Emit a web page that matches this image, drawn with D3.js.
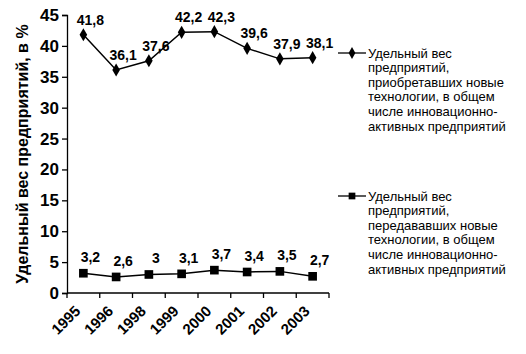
<!DOCTYPE html>
<html>
<head>
<meta charset="utf-8">
<script src="https://cdn.jsdelivr.net/npm/d3@7"></script>
<style>
  body { margin: 0; background: #fff; }
  text { font-family: "Liberation Sans", Arial, sans-serif; }
</style>
</head>
<body>
<svg id="chart" width="526" height="354"></svg>
<script>
// data
const years = ['1995', '1996', '1998', '1999', '2000', '2001', '2002', '2003'];
const acquired = [41.8, 36.1, 37.6, 42.2, 42.3, 39.6, 37.9, 38.1];
const transferred = [3.2, 2.6, 3, 3.1, 3.7, 3.4, 3.5, 2.7];
const yTicks = [0, 5, 10, 15, 20, 25, 30, 35, 40, 45];
const legendAcquired = ['Удельный вес', 'предприятий,', 'приобретавших новые', 'технологии, в общем', 'числе инновационно-', 'активных предприятий'];
const legendTransferred = ['Удельный вес', 'предприятий,', 'передававших новые', 'технологии, в общем', 'числе инновационно-', 'активных предприятий'];

const svg = d3.select('#chart');
const plotLeft = 67, plotRight = 329, plotTop = 15, plotBottom = 293;

const x = d3.scaleBand().domain(years).range([plotLeft, plotRight]);
const y = d3.scaleLinear().domain([0, 45]).range([plotBottom, plotTop]);
const fmt = d => String(d).replace('.', ',');

// y axis
const yAxis = svg.append('g')
    .attr('transform', 'translate(' + plotLeft + ',0)')
    .call(d3.axisLeft(y).tickValues(yTicks).tickSize(5).tickPadding(3));
yAxis.select('.domain').attr('stroke', '#000').attr('stroke-width', 1.3);
yAxis.selectAll('.tick line').attr('stroke', '#000').attr('stroke-width', 1.3);
yAxis.selectAll('text')
    .style('font-size', '17px')
    .style('font-weight', 'bold')
    .attr('fill', '#000');

// x axis (ticks on category borders)
const xAxis = svg.append('g')
    .attr('transform', 'translate(0,' + plotBottom + ')');
xAxis.append('line')
    .attr('x1', plotLeft).attr('x2', plotRight)
    .attr('stroke', '#000').attr('stroke-width', 1.3);
const borders = years.map(d => x(d)).concat([plotRight]);
xAxis.selectAll('.xtick')
    .data(borders)
    .enter()
    .append('line')
    .attr('x1', d => d).attr('x2', d => d)
    .attr('y1', 0).attr('y2', 5)
    .attr('stroke', '#000').attr('stroke-width', 1.3);
svg.selectAll('.xlabel')
    .data(years)
    .enter()
    .append('text')
    .attr('transform', d => 'translate(' + (x(d) + x.bandwidth() / 2 - 2) + ',' + 312 + ') rotate(-45)')
    .attr('text-anchor', 'end')
    .style('font-size', '15px')
    .style('font-weight', 'bold')
    .attr('fill', '#000')
    .text(d => d);

// y axis title
svg.append('text')
    .attr('transform', 'translate(28,' + (plotTop + plotBottom) / 2 + ') rotate(-90)')
    .attr('text-anchor', 'middle')
    .style('font-size', '16px')
    .style('font-weight', 'bold')
    .attr('fill', '#000')
    .text('Удельный вес предприятий, в %');

const cx = d => x(d) + x.bandwidth() / 2;
const line = d3.line().x((d, i) => cx(years[i])).y(d => y(d));

function drawSeries(values, symbol, size, labelDy) {
    svg.append('path')
        .datum(values)
        .attr('fill', 'none')
        .attr('stroke', '#000')
        .attr('stroke-width', 1.5)
        .attr('d', line);
    svg.append('g').selectAll('path')
        .data(values)
        .enter()
        .append('path')
        .attr('transform', (d, i) => 'translate(' + cx(years[i]) + ',' + y(d) + ')')
        .attr('d', d3.symbol().type(symbol).size(size))
        .attr('fill', '#000');
    svg.append('g').selectAll('text')
        .data(values)
        .enter()
        .append('text')
        .attr('x', (d, i) => cx(years[i]) + 7)
        .attr('y', d => y(d) - labelDy)
        .attr('text-anchor', 'middle')
        .style('font-size', '14px')
        .style('font-weight', 'bold')
        .attr('fill', '#000')
        .text(fmt);
}

drawSeries(acquired, d3.symbolDiamond, 50, 10);
drawSeries(transferred, d3.symbolSquare, 75, 11);

// legend
function legend(lines, symbol, size, ly) {
    const g = svg.append('g');
    g.append('line')
        .attr('x1', 338).attr('x2', 366)
        .attr('y1', ly).attr('y2', ly)
        .attr('stroke', '#000').attr('stroke-width', 1.3);
    g.append('path')
        .attr('transform', 'translate(352,' + ly + ')')
        .attr('d', d3.symbol().type(symbol).size(size))
        .attr('fill', '#000');
    g.selectAll('text')
        .data(lines)
        .enter()
        .append('text')
        .attr('x', 368)
        .attr('y', (d, i) => ly + 4.5 + i * 14.6)
        .style('font-size', '13px')
        .attr('fill', '#000')
        .text(d => d);
}

legend(legendAcquired, d3.symbolDiamond, 40, 53);
legend(legendTransferred, d3.symbolSquare, 45, 196);
</script>
</body>
</html>
